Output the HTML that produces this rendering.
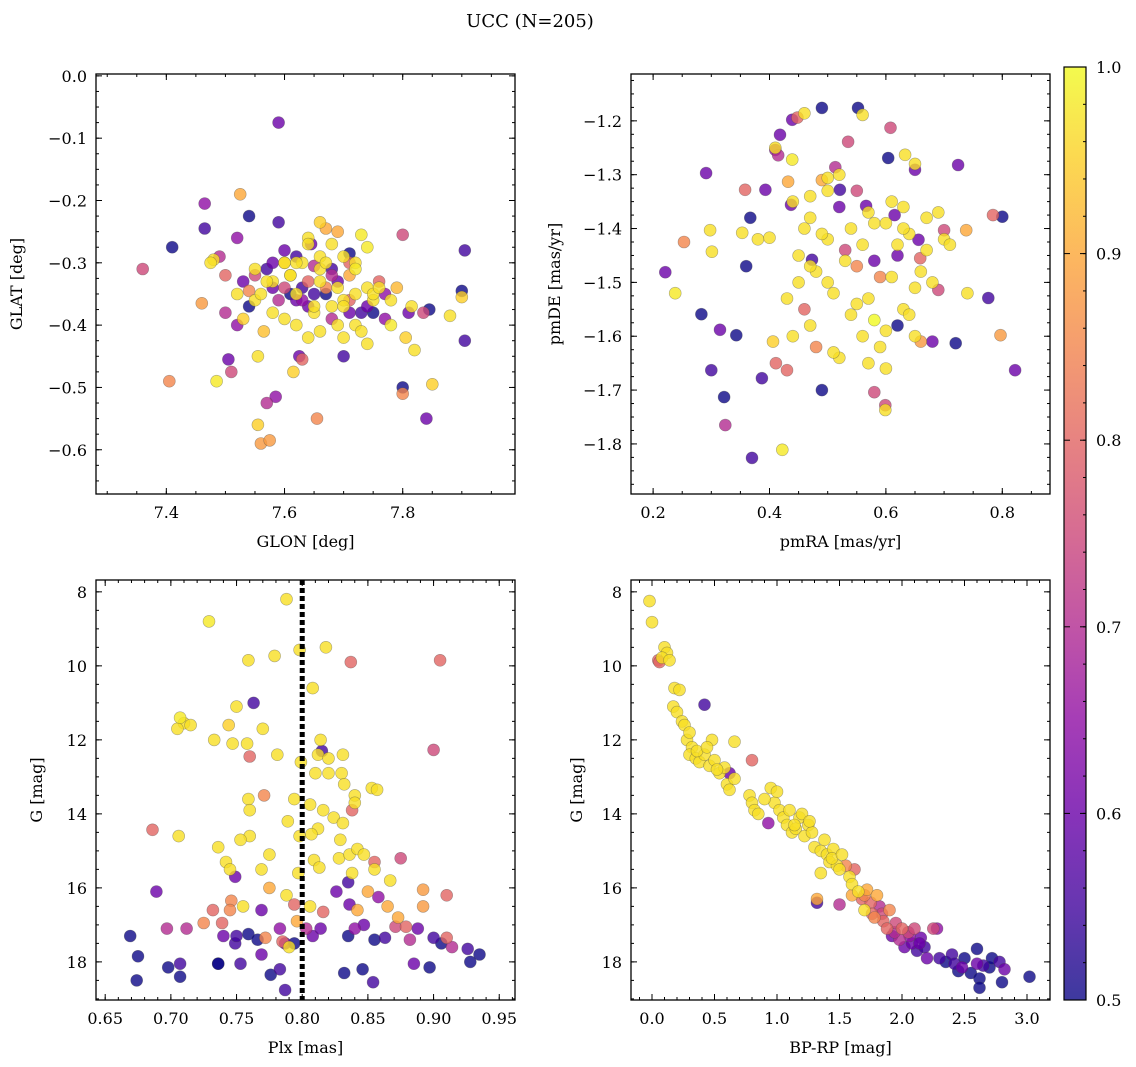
<!DOCTYPE html>
<html><head><meta charset="utf-8">
<style>
html,body{margin:0;padding:0;background:#fff;}
svg{display:block;font-family:"DejaVu Serif","Liberation Serif",serif;}
</style></head>
<body>
<svg id="fig" width="1136" height="1067" viewBox="0 0 1136 1067">
<defs>
<linearGradient id="plasma" x1="0" y1="1" x2="0" y2="0">
<stop offset="0" stop-color="#0d0887"/><stop offset="0.1" stop-color="#41049d"/><stop offset="0.2" stop-color="#6a00a8"/><stop offset="0.3" stop-color="#8f0da4"/><stop offset="0.4" stop-color="#b12a90"/><stop offset="0.5" stop-color="#cc4778"/><stop offset="0.6" stop-color="#e16462"/><stop offset="0.7" stop-color="#f2844b"/><stop offset="0.8" stop-color="#fca636"/><stop offset="0.9" stop-color="#fcce25"/><stop offset="1" stop-color="#f0f921"/>
</linearGradient>
</defs>
<text x="530" y="27" font-size="18" text-anchor="middle">UCC (N=205)</text>
</svg>
<script>
// ---- Panel 1: GLON / GLAT ----
const p1GLON=[7.36,7.41,7.405,7.465,7.465,7.46,7.48,7.475,7.485,7.49,7.5,7.505,7.51,7.52,7.525,7.52,7.53,7.54,7.54,7.55,7.555,7.555,7.56,7.565,7.57,7.575,7.58,7.59,7.59,7.585,7.6,7.61,7.615,7.62,7.625,7.63,7.64,7.645,7.65,7.655,7.66,7.67,7.68,7.69,7.7,7.71,7.71,7.72,7.73,7.74,7.75,7.77,7.78,7.79,7.8,7.8,7.8,7.805,7.81,7.815,7.835,7.84,7.845,7.85,7.88,7.9,7.9,7.905,7.905,
7.53,7.55,7.57,7.58,7.6,7.61,7.62,7.63,7.64,7.65,7.66,7.67,7.68,7.69,7.7,7.71,7.72,7.73,7.74,7.75,7.76,7.6,7.62,7.64,7.66,7.68,7.7,7.72,7.74,7.58,7.6,7.62,7.64,7.66,7.68,7.7,7.72,7.63,7.65,7.67,7.69,7.71,7.56,7.59,7.61,7.63,7.65,7.67,7.69,7.71,7.73,7.75,7.77,7.55,7.57,7.62,7.66,7.68,7.7,7.64,7.6,7.58,7.52,7.54,7.5,7.78,7.76,7.82,7.74];
const p1GLAT=[-0.31,-0.275,-0.49,-0.205,-0.245,-0.365,-0.295,-0.3,-0.49,-0.29,-0.38,-0.455,-0.475,-0.26,-0.19,-0.4,-0.39,-0.225,-0.345,-0.32,-0.45,-0.56,-0.59,-0.41,-0.525,-0.585,-0.3,-0.075,-0.235,-0.515,-0.3,-0.35,-0.475,-0.29,-0.45,-0.455,-0.26,-0.27,-0.305,-0.55,-0.235,-0.245,-0.27,-0.25,-0.45,-0.3,-0.285,-0.31,-0.255,-0.275,-0.38,-0.35,-0.4,-0.34,-0.255,-0.5,-0.51,-0.42,-0.38,-0.37,-0.38,-0.55,-0.375,-0.495,-0.385,-0.345,-0.355,-0.28,-0.425,
-0.33,-0.36,-0.31,-0.38,-0.34,-0.32,-0.36,-0.3,-0.33,-0.35,-0.31,-0.34,-0.37,-0.33,-0.36,-0.32,-0.35,-0.38,-0.34,-0.36,-0.33,-0.39,-0.4,-0.37,-0.41,-0.39,-0.42,-0.4,-0.37,-0.33,-0.28,-0.3,-0.27,-0.29,-0.31,-0.29,-0.3,-0.36,-0.38,-0.35,-0.34,-0.36,-0.35,-0.36,-0.32,-0.34,-0.37,-0.3,-0.4,-0.38,-0.41,-0.35,-0.39,-0.31,-0.33,-0.35,-0.33,-0.32,-0.37,-0.42,-0.3,-0.34,-0.35,-0.37,-0.32,-0.36,-0.34,-0.44,-0.43];
const p1Prob=[0.75,0.5,0.85,0.65,0.55,0.88,0.97,0.97,0.98,0.7,0.7,0.6,0.75,0.65,0.9,0.65,0.95,0.5,0.85,0.75,0.97,0.95,0.88,0.93,0.7,0.88,0.6,0.6,0.55,0.65,0.95,0.5,0.95,0.55,0.6,0.8,0.97,0.6,0.7,0.85,0.95,0.9,0.97,0.9,0.55,0.8,0.5,0.98,0.98,0.98,0.5,0.65,0.98,0.92,0.75,0.5,0.85,0.95,0.6,0.97,0.75,0.6,0.5,0.95,0.97,0.5,0.95,0.55,0.55,
0.6,0.97,0.55,0.97,0.75,0.97,0.6,0.97,0.8,0.55,0.97,0.85,0.97,0.6,0.97,0.9,0.97,0.55,0.97,0.97,0.8,0.97,0.97,0.6,0.97,0.7,0.97,0.97,0.6,0.97,0.6,0.97,0.97,0.97,0.55,0.97,0.97,0.65,0.97,0.5,0.97,0.8,0.97,0.7,0.97,0.55,0.97,0.97,0.97,0.6,0.97,0.97,0.65,0.97,0.97,0.97,0.97,0.7,0.97,0.97,0.97,0.6,0.97,0.5,0.8,0.97,0.97,0.97,0.97];

// ---- Panel 2: pmRA / pmDE ----
const p2pmRA=[0.221,0.238,0.253,0.283,0.291,0.298,0.301,0.3,0.315,0.322,0.324,0.343,0.353,0.358,0.367,0.37,0.387,0.393,0.4,0.406,0.41,0.411,0.415,0.418,0.422,0.43,0.432,0.437,0.439,0.448,0.46,0.439,0.49,0.47,0.473,0.49,0.5,0.513,0.521,0.535,0.552,0.56,0.566,0.58,0.599,0.599,0.604,0.608,0.615,0.633,0.65,0.656,0.659,0.68,0.69,0.7,0.72,0.724,0.738,0.776,0.784,0.797,0.8,0.822,
0.44,0.45,0.46,0.47,0.48,0.49,0.5,0.51,0.52,0.53,0.54,0.55,0.56,0.57,0.58,0.59,0.6,0.61,0.62,0.63,0.64,0.65,0.66,0.67,0.68,0.44,0.46,0.48,0.5,0.52,0.54,0.56,0.58,0.6,0.62,0.64,0.66,0.45,0.47,0.49,0.51,0.53,0.55,0.57,0.59,0.61,0.63,0.65,0.67,0.43,0.5,0.55,0.6,0.65,0.7,0.52,0.57,0.62,0.47,0.41,0.36,0.38,0.69,0.71,0.74,0.63,0.58];
const p2pmDE=[-1.481,-1.52,-1.425,-1.559,-1.297,-1.403,-1.443,-1.663,-1.588,-1.713,-1.765,-1.598,-1.408,-1.328,-1.38,-1.826,-1.678,-1.328,-1.417,-1.61,-1.254,-1.65,-1.264,-1.226,-1.811,-1.663,-1.313,-1.356,-1.198,-1.194,-1.186,-1.272,-1.176,-1.34,-1.458,-1.7,-1.306,-1.286,-1.328,-1.239,-1.176,-1.189,-1.358,-1.704,-1.728,-1.737,-1.269,-1.213,-1.375,-1.263,-1.291,-1.421,-1.455,-1.61,-1.514,-1.403,-1.613,-1.282,-1.403,-1.529,-1.375,-1.598,-1.378,-1.663,
-1.35,-1.45,-1.55,-1.38,-1.48,-1.31,-1.42,-1.52,-1.36,-1.46,-1.56,-1.33,-1.43,-1.53,-1.39,-1.49,-1.59,-1.35,-1.45,-1.55,-1.41,-1.51,-1.61,-1.44,-1.5,-1.6,-1.4,-1.62,-1.5,-1.64,-1.4,-1.6,-1.46,-1.66,-1.43,-1.56,-1.48,-1.5,-1.58,-1.41,-1.63,-1.44,-1.54,-1.37,-1.62,-1.49,-1.36,-1.6,-1.38,-1.53,-1.33,-1.47,-1.39,-1.28,-1.42,-1.3,-1.65,-1.58,-1.47,-1.25,-1.47,-1.42,-1.37,-1.43,-1.52,-1.4,-1.57,-1.67];
const p2Prob=[0.6,0.98,0.85,0.5,0.6,0.97,0.97,0.55,0.6,0.5,0.7,0.5,0.97,0.8,0.5,0.55,0.55,0.6,0.97,0.95,0.65,0.8,0.7,0.6,0.98,0.8,0.9,0.6,0.6,0.8,0.97,0.98,0.5,0.97,0.55,0.5,0.97,0.7,0.55,0.75,0.5,0.97,0.6,0.75,0.75,0.97,0.5,0.75,0.6,0.97,0.6,0.6,0.8,0.6,0.75,0.75,0.5,0.6,0.9,0.55,0.8,0.88,0.5,0.6,
0.97,0.97,0.8,0.97,0.97,0.9,0.97,0.97,0.6,0.97,0.97,0.75,0.97,0.97,0.97,0.85,0.97,0.97,0.6,0.97,0.97,0.97,0.88,0.97,0.97,0.97,0.97,0.85,0.97,0.97,0.97,0.97,0.6,0.97,0.97,0.97,0.97,0.97,0.97,0.97,0.97,0.75,0.97,0.97,0.97,0.97,0.97,0.97,0.97,0.97,0.97,0.85,0.97,0.97,0.97,0.97,0.97,0.5,0.97,0.97,0.5,0.97,0.97,0.97,0.97,0.97];

// ---- Panel 3: Plx / G ----
const p3Plx=[0.788,0.729,0.759,0.779,0.798,0.818,0.837,0.905,0.808,0.763,0.75,0.707,0.71,0.705,0.715,0.744,0.77,0.733,0.747,0.758,0.76,0.814,0.815,0.9,0.781,0.799,0.812,0.82,0.831,0.81,0.82,0.83,0.832,0.84,0.853,0.857,0.771,0.759,0.794,0.806,0.816,0.838,0.84,0.789,0.76,0.812,0.824,0.829,0.831,0.706,0.686,0.76,0.798,0.807,0.736,0.742,0.753,0.809,0.828,0.836,0.842,0.847,0.855,0.875,0.745,0.749,0.775,0.769,0.797,0.813,0.835,0.838,0.855,0.867,0.788,0.794,0.775,0.769,0.755,0.746,0.796,0.806,0.816,0.826,0.836,0.842,0.85,0.858,0.865,0.873,0.892,0.91,0.892,0.689,0.745,0.732,0.739,0.725,0.712,0.697,0.669,0.74,0.749,0.75,0.759,0.766,0.772,0.783,0.787,0.803,0.808,0.814,0.835,0.84,0.847,0.855,0.863,0.871,0.879,0.882,0.888,0.9,0.906,0.91,0.914,0.926,0.935,0.675,0.674,0.698,0.707,0.707,0.736,0.736,0.753,0.776,0.783,0.832,0.846,0.854,0.885,0.897,0.928,0.787,0.794,0.769,0.79,0.785];
const p3G=[8.2,8.8,9.85,9.73,9.57,9.5,9.9,9.85,10.6,11.0,11.1,11.4,11.55,11.7,11.6,11.6,11.7,12.0,12.1,12.1,12.45,12.0,12.3,12.27,12.4,12.6,12.4,12.5,12.4,12.9,12.9,12.9,13.2,13.5,13.3,13.35,13.5,13.6,13.6,13.75,13.9,13.9,13.7,14.2,13.9,14.4,14.1,14.7,14.25,14.6,14.43,14.6,14.6,14.55,14.9,15.3,14.7,15.25,15.2,15.1,14.95,15.1,15.3,15.2,15.5,15.7,15.1,15.5,15.6,15.45,15.85,15.6,15.5,15.8,16.2,16.45,16.0,16.6,16.5,16.35,16.9,16.5,16.65,16.1,16.45,16.6,16.1,16.25,16.5,16.8,16.05,16.2,16.5,16.1,16.6,16.6,16.95,16.95,17.1,17.1,17.3,17.3,17.5,17.3,17.25,17.4,17.35,17.1,17.5,17.1,17.3,17.1,17.3,17.1,17.0,17.4,17.35,17.05,17.05,17.4,17.1,17.35,17.5,17.35,17.6,17.65,17.8,17.85,18.5,18.15,18.05,18.4,18.05,18.05,18.05,18.35,18.2,18.3,18.2,18.55,18.05,18.15,18.0,18.76,17.5,17.8,17.6,17.45,17.9];
const p3Prob=[0.97,0.98,0.97,0.97,0.97,0.97,0.8,0.8,0.97,0.55,0.97,0.98,0.97,0.97,0.97,0.95,0.97,0.97,0.97,0.97,0.8,0.97,0.55,0.75,0.97,0.97,0.97,0.97,0.97,0.97,0.97,0.97,0.97,0.97,0.97,0.97,0.85,0.97,0.97,0.97,0.97,0.8,0.97,0.97,0.97,0.97,0.97,0.97,0.97,0.97,0.8,0.97,0.97,0.97,0.97,0.97,0.97,0.97,0.97,0.97,0.97,0.97,0.8,0.75,0.97,0.6,0.97,0.97,0.97,0.97,0.55,0.97,0.97,0.97,0.97,0.8,0.9,0.6,0.97,0.85,0.9,0.97,0.8,0.6,0.6,0.9,0.9,0.65,0.9,0.9,0.88,0.8,0.88,0.6,0.85,0.8,0.8,0.85,0.7,0.7,0.5,0.6,0.55,0.55,0.5,0.5,0.85,0.65,0.6,0.7,0.6,0.6,0.5,0.65,0.6,0.5,0.55,0.75,0.8,0.7,0.6,0.55,0.5,0.8,0.7,0.55,0.5,0.5,0.5,0.5,0.55,0.5,0.5,0.5,0.55,0.5,0.55,0.5,0.5,0.55,0.6,0.5,0.5,0.55,0.5,0.6,0.97,0.8,0.5,0.97];

// ---- Panel 4: BP-RP / G ----
const p4BPRP=[-0.02,0.0,0.05,0.06,0.1,0.12,0.08,0.14,0.18,0.22,0.17,0.2,0.24,0.26,0.42,0.28,0.32,0.3,0.35,0.38,0.42,0.46,0.5,0.48,0.66,0.54,0.58,0.62,0.8,0.6,0.62,0.66,0.78,0.8,0.82,0.85,0.93,0.95,0.98,1.02,1.05,1.08,1.1,1.12,1.15,1.18,1.2,1.22,1.25,1.28,1.3,1.35,1.38,1.4,1.42,1.45,1.48,1.5,1.35,1.55,1.58,1.6,1.62,1.32,1.32,1.5,1.65,1.68,1.7,1.72,1.75,1.78,1.8,1.82,1.85,1.88,1.9,1.92,1.95,1.98,2.0,2.02,2.05,2.08,2.1,2.12,2.15,2.18,2.2,2.25,2.28,2.3,2.35,2.4,2.42,2.45,2.48,2.5,2.55,2.6,2.6,2.62,2.62,2.65,2.7,2.72,2.78,2.8,2.82,3.02,0.3,0.36,0.44,0.52,0.9,1.0,1.14,1.26,1.44,1.52,1.6,1.7,1.76,1.84,1.94,2.06,2.14];
const p4G=[8.25,8.82,9.85,9.9,9.5,9.65,9.78,9.85,10.6,10.65,11.1,11.25,11.5,11.6,11.05,12.0,12.2,12.4,12.5,12.6,12.4,12.7,12.55,12.0,12.05,12.9,12.75,12.9,12.55,13.2,13.35,13.05,13.5,13.7,13.9,14.0,14.25,13.3,13.7,13.9,14.1,14.3,13.9,14.5,14.4,14.1,14.0,14.6,14.3,14.5,14.9,15.0,14.7,15.1,15.3,14.95,15.4,15.5,15.6,15.4,15.7,15.9,15.5,16.3,16.4,16.45,16.1,16.3,16.6,16.05,16.4,16.8,16.2,16.5,16.9,17.1,16.6,17.3,16.95,17.4,17.1,17.6,17.2,17.5,17.1,17.7,17.35,17.6,17.9,17.1,17.1,17.9,18.0,17.8,18.05,18.25,18.15,17.9,18.3,17.65,18.05,18.45,18.7,18.1,18.15,17.9,18.0,18.55,18.2,18.4,11.8,12.3,12.2,12.8,13.6,13.4,14.3,14.2,15.2,15.1,16.2,16.2,16.7,16.7,17.2,17.3,17.5];
const p4Prob=[0.97,0.97,0.8,0.8,0.97,0.97,0.97,0.97,0.97,0.97,0.97,0.97,0.97,0.97,0.55,0.97,0.97,0.97,0.97,0.97,0.97,0.97,0.97,0.97,0.97,0.97,0.97,0.6,0.8,0.97,0.97,0.97,0.97,0.97,0.97,0.97,0.65,0.97,0.97,0.97,0.97,0.97,0.97,0.97,0.97,0.97,0.97,0.97,0.97,0.97,0.97,0.97,0.97,0.97,0.97,0.97,0.97,0.97,0.97,0.85,0.97,0.97,0.8,0.9,0.55,0.7,0.97,0.8,0.97,0.9,0.8,0.85,0.9,0.7,0.8,0.8,0.85,0.6,0.75,0.7,0.8,0.6,0.75,0.6,0.75,0.55,0.6,0.55,0.6,0.75,0.65,0.55,0.5,0.55,0.55,0.5,0.6,0.5,0.5,0.5,0.6,0.5,0.5,0.55,0.5,0.5,0.55,0.5,0.6,0.5,0.97,0.97,0.97,0.97,0.97,0.97,0.97,0.97,0.97,0.97,0.9,0.85,0.8,0.75,0.7,0.65,0.6];

// tick label arrays
const p1XTicks=[7.4,7.6,7.8], p1YTicks=[0.0,-0.1,-0.2,-0.3,-0.4,-0.5,-0.6];
const p2XTicks=[0.2,0.4,0.6,0.8], p2YTicks=[-1.2,-1.3,-1.4,-1.5,-1.6,-1.7,-1.8];
const p3XTicks=[0.65,0.70,0.75,0.80,0.85,0.90,0.95], p3YTicks=[8,10,12,14,16,18];
const p4XTicks=[0.0,0.5,1.0,1.5,2.0,2.5,3.0], p4YTicks=[8,10,12,14,16,18];
const cbTicks=[0.5,0.6,0.7,0.8,0.9,1.0];
const plxMean=[0.80];

const NS="http://www.w3.org/2000/svg";
const svg=document.getElementById('fig');
function mk(tag,attrs,parent){const e=document.createElementNS(NS,tag);for(const k in attrs)e.setAttribute(k,attrs[k]);(parent||svg).appendChild(e);return e;}
const stops=[[0,[13,8,135]],[0.1,[65,4,157]],[0.2,[106,0,168]],[0.3,[143,13,164]],[0.4,[177,42,144]],[0.5,[204,71,120]],[0.6,[225,100,98]],[0.7,[242,132,75]],[0.8,[252,166,54]],[0.9,[252,206,37]],[1,[240,249,33]]];
function plasma(v){let t=Math.max(0,Math.min(1,(v-0.5)/0.5));for(let i=1;i<stops.length;i++){if(t<=stops[i][0]){const a=stops[i-1],b=stops[i];const f=(t-a[0])/(b[0]-a[0]);const c=a[1].map((x,j)=>Math.round(x+(b[1][j]-x)*f));return `rgb(${c[0]},${c[1]},${c[2]})`;}}return 'rgb(240,249,33)';}

function panel(cfg){
  const g=mk('g',{});
  
  
  const {L,T,W,H,x0,x1,y0,y1}=cfg;
  const sx=v=>L+(v-x0)/(x1-x0)*W;
  const sy=v=>T+(v-y0)/(y1-y0)*H;
  const pts=mk('g',{},g);
  
  
  const idx=cfg.xs.map((_,i)=>i).sort((a,b)=>cfg.cs[a]-cfg.cs[b]);
  idx.forEach(i=>{
    const c=mk('circle',{cx:sx(cfg.xs[i]).toFixed(1),cy:sy(cfg.ys[i]).toFixed(1),r:6,fill:plasma(cfg.cs[i]),'fill-opacity':0.8,stroke:'rgba(70,70,70,0.45)','stroke-width':0.6},pts);
    
    
  });
  if(cfg.vline){cfg.vline.forEach(v=>{const l=mk('line',{x1:sx(v),x2:sx(v),y1:T,y2:T+H,stroke:'#000','stroke-width':5,'stroke-dasharray':'5,3'},g);});}
  const fr=mk('rect',{x:L,y:T,width:W,height:H,fill:'none',stroke:'#000','stroke-width':1.3},g);
  
  
  const minorStepX=cfg.mx, minorStepY=cfg.my;
  for(let v=Math.ceil(Math.min(x0,x1)/minorStepX)*minorStepX;v<=Math.max(x0,x1);v+=minorStepX){const x=sx(v);mk('line',{x1:x,x2:x,y1:T+H,y2:T+H-3,stroke:'#000'},g);mk('line',{x1:x,x2:x,y1:T,y2:T+3,stroke:'#000'},g);}
  for(let v=Math.ceil(Math.min(y0,y1)/minorStepY)*minorStepY;v<=Math.max(y0,y1);v+=minorStepY){const y=sy(v);mk('line',{x1:L,x2:L+3,y1:y,y2:y,stroke:'#000'},g);mk('line',{x1:L+W,x2:L+W-3,y1:y,y2:y,stroke:'#000'},g);}
  cfg.xt.forEach(v=>{const x=sx(v);mk('line',{x1:x,x2:x,y1:T+H,y2:T+H-6,stroke:'#000'},g);mk('line',{x1:x,x2:x,y1:T,y2:T+6,stroke:'#000'},g);
    const t=mk('text',{x:x,y:T+H+24,'font-size':16,'text-anchor':'middle'},g);t.textContent=v.toFixed(cfg.xd);
    });
  cfg.yt.forEach(v=>{const y=sy(v);mk('line',{x1:L,x2:L+6,y1:y,y2:y,stroke:'#000'},g);mk('line',{x1:L+W,x2:L+W-6,y1:y,y2:y,stroke:'#000'},g);
    const t=mk('text',{x:L-9,y:y+6,'font-size':16,'text-anchor':'end'},g);t.textContent=(v<0?'\u2212':'')+Math.abs(v).toFixed(cfg.yd);
    });
  const xl=mk('text',{x:L+W/2,y:T+H+53,'font-size':16,'text-anchor':'middle'},g);xl.textContent=cfg.xlab;
  
  const yl=mk('text',{x:0,y:0,'font-size':16,'text-anchor':'middle',transform:`translate(${cfg.ylx},${T+H/2}) rotate(-90)`},g);yl.textContent=cfg.ylab;
  
}
panel({name:'glon-glat-panel',L:96,T:74,W:419,H:420,x0:7.281,x1:7.99,y0:0.003,y1:-0.671,xs:p1GLON,ys:p1GLAT,cs:p1Prob,xt:p1XTicks,yt:p1YTicks,xd:1,yd:1,mx:0.05,my:0.025,xlab:'GLON [deg]',ylab:'GLAT [deg]',ylx:22});
panel({name:'pm-panel',L:631,T:74,W:419,H:420,x0:0.162,x1:0.882,y0:-1.113,y1:-1.893,xs:p2pmRA,ys:p2pmDE,cs:p2Prob,xt:p2XTicks,yt:p2YTicks,xd:1,yd:1,mx:0.05,my:0.025,xlab:'pmRA [mas/yr]',ylab:'pmDE [mas/yr]',ylx:560});
panel({name:'plx-g-panel',L:96,T:580,W:419,H:420,x0:0.643,x1:0.962,y0:7.68,y1:19.03,xs:p3Plx,ys:p3G,cs:p3Prob,xt:p3XTicks,yt:p3YTicks,xd:2,yd:0,mx:0.01,my:0.5,xlab:'Plx [mas]',ylab:'G [mag]',ylx:42,vline:plxMean});
panel({name:'cmd-panel',L:631,T:580,W:419,H:420,x0:-0.168,x1:3.184,y0:7.68,y1:19.03,xs:p4BPRP,ys:p4G,cs:p4Prob,xt:p4XTicks,yt:p4YTicks,xd:1,yd:0,mx:0.1,my:0.5,xlab:'BP-RP [mag]',ylab:'G [mag]',ylx:582});
// colorbar
const cb=mk('g',{});


mk('rect',{x:1064,y:67,width:22,height:933,fill:'url(#plasma)','fill-opacity':0.8},cb);
mk('rect',{x:1064,y:67,width:22,height:933,fill:'none',stroke:'#000','stroke-width':1.2},cb);
cbTicks.forEach(v=>{const y=1000-(v-0.5)/0.5*933;mk('line',{x1:1086,x2:1080,y1:y,y2:y,stroke:'#000'},cb);mk('line',{x1:1064,x2:1070,y1:y,y2:y,stroke:'#000'},cb);
  const t=mk('text',{x:1096,y:y+6,'font-size':16},cb);t.textContent=v.toFixed(1);
  });
for(let v=0.52;v<1;v+=0.02){const y=1000-(v-0.5)/0.5*933;mk('line',{x1:1086,x2:1083,y1:y,y2:y,stroke:'#000'},cb);}
</script>
</body></html>
